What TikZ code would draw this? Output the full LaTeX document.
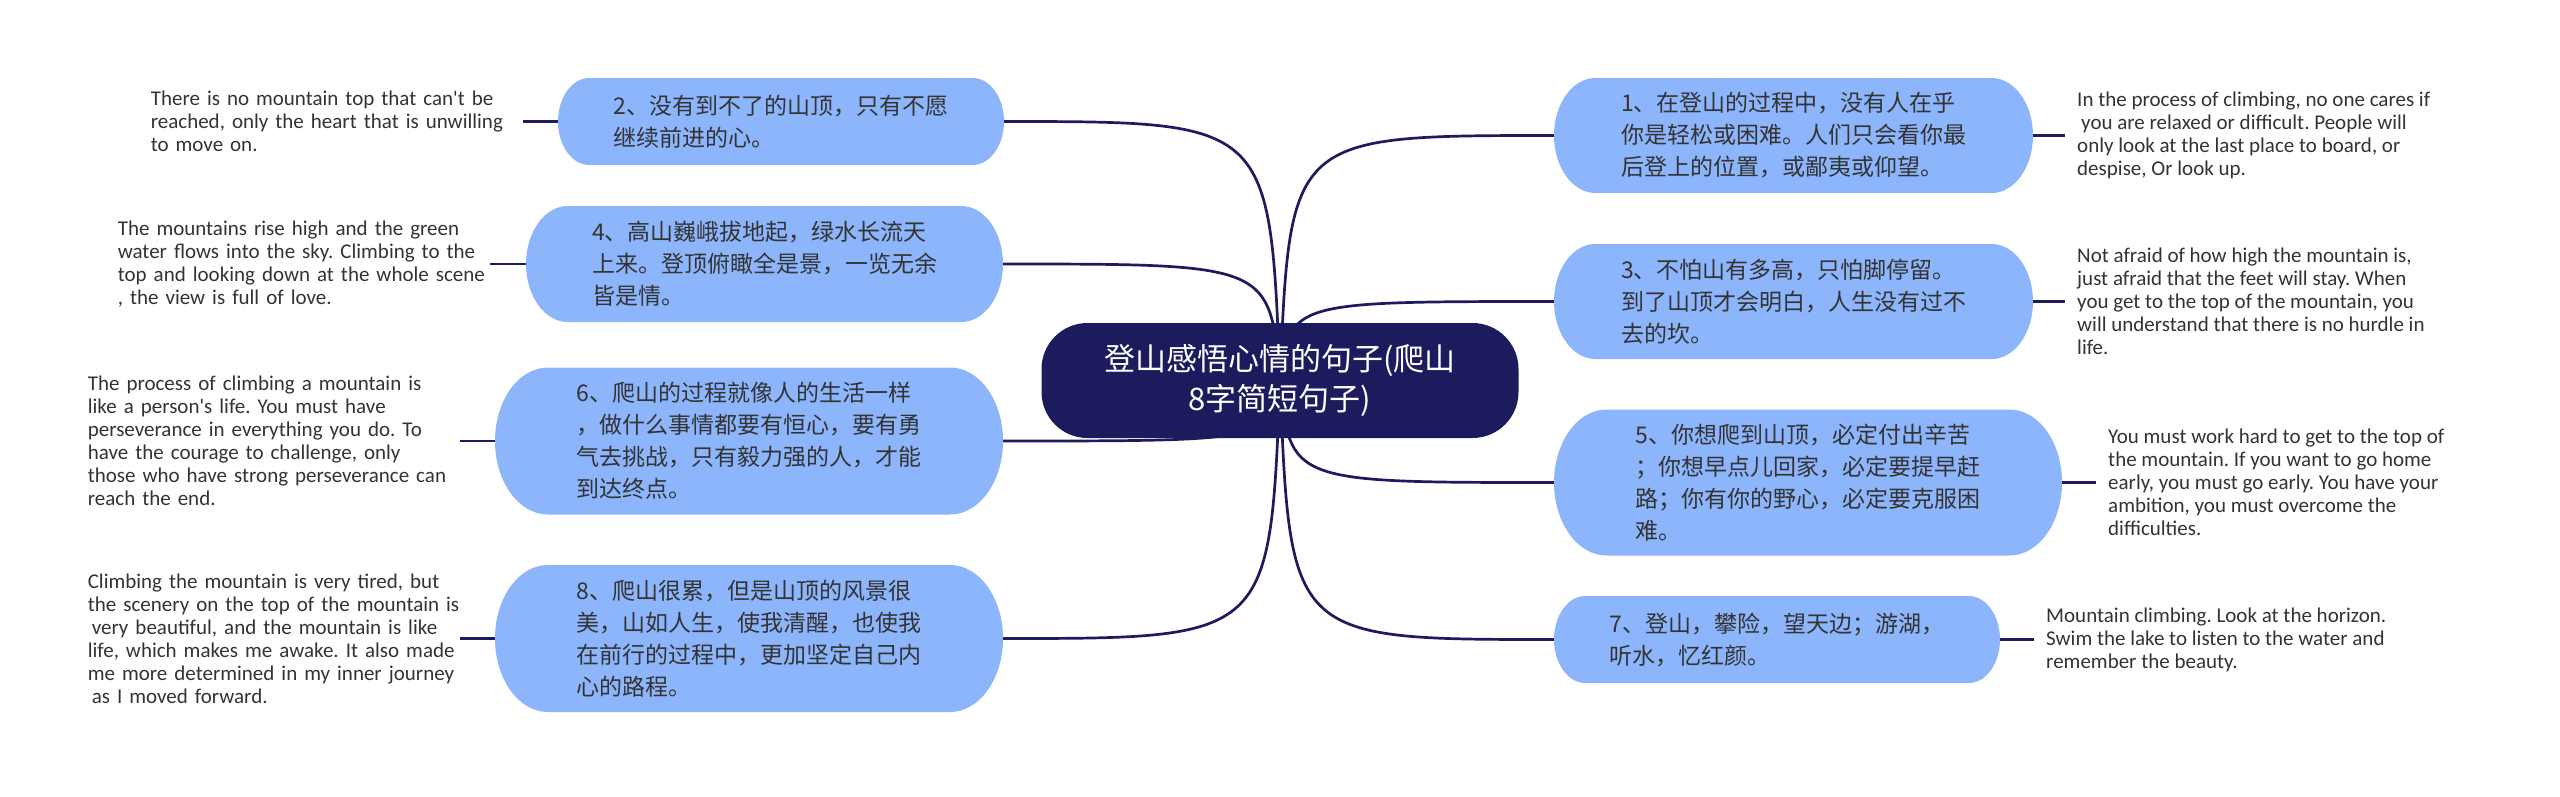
\documentclass[tikz,border=0pt]{standalone}
\usepackage{fontspec}
\setmainfont{Noto Sans CJK SC}
\newfontfamily\notefont{Carlito}
\frenchspacing

\definecolor{rootblue}{RGB}{28,27,94}
\definecolor{topicblue}{RGB}{141,181,251}
\definecolor{inkgray}{RGB}{51,51,51}

\pgfdeclarelayer{back}
\pgfsetlayers{back,main}

\tikzset{
	rootnode/.style={fill=rootblue, text=white, rounded corners=46pt,
		minimum width=477pt, minimum height=115pt, align=center,
		font=\fontsize{31}{40}\selectfont},
	topic/.style={align=left, text=inkgray, inner sep=0pt,
		font=\fontsize{23}{32}\selectfont},
	note/.style={align=left, text=inkgray, inner sep=0pt,
		font=\notefont\fontsize{21}{23}\selectfont},
	leftnote/.style={note, text width=372pt, anchor=east},
	rightnote/.style={note, anchor=west},
	branch/.style={draw=rootblue, line width=2.7pt},
	leaf/.style={draw=rootblue, line width=2.7pt},
}

\begin{document}
\begin{tikzpicture}[x=1pt, y=1pt]
	\useasboundingbox (0,0) rectangle (2560,-796);
	% pill shapes behind the topics
	\foreach \cx/\cy/\w/\h in {781/-121.5/446/87, 764.5/-264/477/116,
		749/-441/508/147, 749/-638.5/508/147, 1793.5/-135.5/479/115,
		1793.5/-301.5/479/115, 1808/-482.5/508/146, 1777/-639.5/446/87} {
		\fill[topicblue] (\cx-\w/2+0.36*\h, \cy+\h/2) -- (\cx+\w/2-0.36*\h, \cy+\h/2)
			arc[start angle=90, end angle=-90, x radius=0.36*\h, y radius=\h/2]
			-- (\cx-\w/2+0.36*\h, \cy-\h/2)
			arc[start angle=270, end angle=90, x radius=0.36*\h, y radius=\h/2] -- cycle;
	}
	\node[rootnode] (root) at (1280,-380.5) {登山感悟心情的句子(爬山\\8字简短句子)};
	% left topics
	\node[topic, minimum width=446pt, minimum height=87pt] (t2) at (781,-121.5)
		{2、没有到不了的山顶，只有不愿\\继续前进的心。};
	\node[topic, minimum width=477pt, minimum height=116pt] (t4) at (764.5,-264)
		{4、高山巍峨拔地起，绿水长流天\\上来。登顶俯瞰全是景，一览无余\\皆是情。};
	\node[topic, minimum width=508pt, minimum height=147pt] (t6) at (749,-441)
		{6、爬山的过程就像人的生活一样\\，做什么事情都要有恒心，要有勇\\气去挑战，只有毅力强的人，才能\\到达终点。};
	\node[topic, minimum width=508pt, minimum height=147pt] (t8) at (749,-638.5)
		{8、爬山很累，但是山顶的风景很\\美，山如人生，使我清醒，也使我\\在前行的过程中，更加坚定自己内\\心的路程。};
	% right topics
	\node[topic, minimum width=479pt, minimum height=115pt] (t1) at (1793.5,-135.5)
		{1、在登山的过程中，没有人在乎\\你是轻松或困难。人们只会看你最\\后登上的位置，或鄙夷或仰望。};
	\node[topic, minimum width=479pt, minimum height=115pt] (t3) at (1793.5,-301.5)
		{3、不怕山有多高，只怕脚停留。\\到了山顶才会明白，人生没有过不\\去的坎。};
	\node[topic, minimum width=508pt, minimum height=146pt] (t5) at (1808,-482.5)
		{5、你想爬到山顶，必定付出辛苦\\；你想早点儿回家，必定要提早赶\\路；你有你的野心，必定要克服困\\难。};
	\node[topic, minimum width=446pt, minimum height=87pt] (t7) at (1777,-639.5)
		{7、登山，攀险，望天边；游湖，\\听水，忆红颜。};
	% notes
	\node[leftnote] (n2) at (523,-121.5) {There is no mountain top that can't be\\reached, only the heart that is unwilling\\to move on.};
	\node[leftnote] (n4) at (490,-264) {The mountains rise high and the green\\water flows into the sky. Climbing to the\\top and looking down at the whole scene\\, the view is full of love.};
	\node[leftnote] (n6) at (460,-441) {The process of climbing a mountain is\\like a person's life. You must have\\perseverance in everything you do. To\\have the courage to challenge, only\\those who have strong perseverance can\\reach the end.};
	\node[leftnote] (n8) at (460,-638.5) {Climbing the mountain is very tired, but\\the scenery on the top of the mountain is\\\hspace*{4pt}very beautiful, and the mountain is like\\life, which makes me awake. It also made\\me more determined in my inner journey\\\hspace*{4pt}as I moved forward.};
	\node[rightnote] (n1) at (2077,-135.5) {In the process of climbing, no one cares if\\\hspace*{4pt}you are relaxed or difficult. People will\\only look at the last place to board, or\\despise, Or look up.};
	\node[rightnote] (n3) at (2077,-301.5) {Not afraid of how high the mountain is,\\just afraid that the feet will stay. When\\you get to the top of the mountain, you\\will understand that there is no hurdle in\\life.};
	\node[rightnote] (n5) at (2108,-482.5) {You must work hard to get to the top of\\the mountain. If you want to go home\\early, you must go early. You have your\\ambition, you must overcome the\\difficulties.};
	\node[rightnote] (n7) at (2046,-639.5) {Mountain climbing. Look at the horizon.\\Swim the lake to listen to the water and\\remember the beauty.};
	\begin{pgfonlayer}{back}
		\fill[white] (0,0) rectangle (2560,-796);
		\foreach \t/\cy in {t2/-121.5, t4/-264, t6/-441, t8/-638.5} {
			\draw[branch] (root.center) .. controls (1270,\cy) .. (\t.east);
		}
		\foreach \t/\cy in {t1/-135.5, t3/-301.5, t5/-482.5, t7/-639.5} {
			\draw[branch] (root.center) .. controls (1290,\cy) .. (\t.west);
		}
	\end{pgfonlayer}
	\foreach \i in {2,4,6,8} {
		\draw[leaf] (t\i.west) -- (n\i.east);
	}
	\foreach \i in {1,3,5,7} {
		\draw[leaf, shorten >=12pt] (t\i.east) -- (n\i.west);
	}
\end{tikzpicture}
\end{document}
